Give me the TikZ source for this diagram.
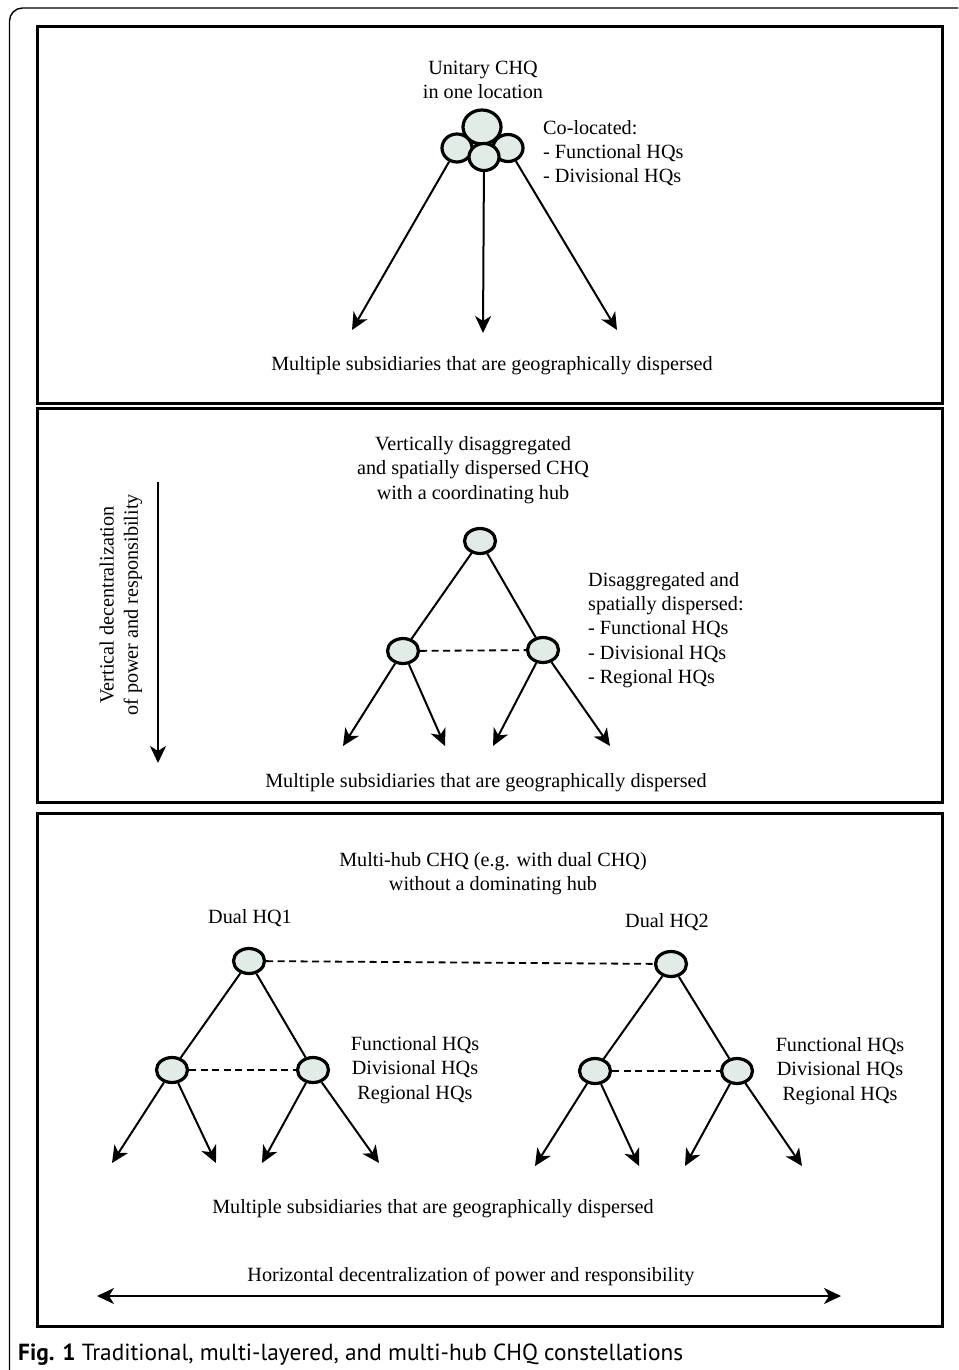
\documentclass[tikz,border=0pt]{standalone}
\usepackage{fontspec}
\setmainfont{Liberation Serif}
\newfontfamily\capfont{PT Sans}
\usepackage{tikz}
\usetikzlibrary{arrows.meta,shapes.geometric,positioning}
\usepackage{xcolor}
\definecolor{hqfill}{RGB}{226,236,231}
\tikzstyle{arrow} = [line width=2pt,-{Stealth[length=17pt,width=16pt,inset=5pt]}]
\tikzstyle{link} = [line width=2pt]
\tikzstyle{peer} = [line width=1.8pt, dash pattern=on 7pt off 4.5pt]
\tikzstyle{hq} = [ellipse, draw, line width=3.2pt, fill=hqfill, minimum width=31pt, minimum height=25pt, inner sep=0pt]
\tikzstyle{panel} = [line width=3pt]
\tikzstyle{label} = [align=center, inner sep=0pt]

\begin{document}
\begin{tikzpicture}[x=1pt, y=-1pt, font=\fontsize{20.2}{24.2}\selectfont]
\useasboundingbox (0,0) rectangle (958,1370);
% Outer frame
\draw[line width=1.4pt, rounded corners=13pt] (9.5,1370) -- (9.5,8) -- (958,8);

% Panel 1: unitary CHQ
\draw[panel] (37,27) rectangle (942,403);
\node[label] at (483,80) (unitary) {Unitary CHQ\\in one location};
\node[hq, minimum width=38pt, minimum height=34pt] at (482,127) (chq) {};
\node[hq, minimum width=30pt, minimum height=28pt] at (457,148) (fhq) {};
\node[hq, minimum width=30pt, minimum height=27pt] at (508,148) (dhq) {};
\node[hq, minimum width=30pt, minimum height=27pt] at (484,157) (mhq) {};
\node[label, anchor=west, align=left] at (543,153) (coloc) {Co-located:\\- Functional HQs\\- Divisional HQs};
\coordinate (t1a) at (352,330);
\coordinate (t1b) at (483,333);
\coordinate (t1c) at (617,330);
\draw[arrow] (fhq) -- (t1a);
\draw[arrow] (mhq) -- (t1b);
\draw[arrow] (dhq) -- (t1c);
\node[label] at (492,366) (subs1) {Multiple subsidiaries that are geographically dispersed};

% Panel 2: multi-layered CHQ
\draw[panel] (37,408) rectangle (942,802);
\node[label] at (473,470) (layered) {Vertically disaggregated\\and spatially dispersed CHQ\\with a coordinating hub};
\node[hq] at (480,541) (hub) {};
\node[hq] at (403,651) (lhq) {};
\node[hq] at (543,650) (rhq) {};
\draw[link] (hub) -- (lhq);
\draw[link] (hub) -- (rhq);
\draw[peer] (lhq) -- (rhq);
\node[label, anchor=west, align=left] at (588,630) (disagg) {Disaggregated and\\spatially dispersed:\\- Functional HQs\\- Divisional HQs\\- Regional HQs};
\coordinate (t2a) at (343,746);
\coordinate (t2b) at (445,746);
\coordinate (t2c) at (493,746);
\coordinate (t2d) at (610,746);
\draw[arrow] (lhq) -- (t2a);
\draw[arrow] (lhq) -- (t2b);
\draw[arrow] (rhq) -- (t2c);
\draw[arrow] (rhq) -- (t2d);
\node[label] at (486,783) (subs2) {Multiple subsidiaries that are geographically dispersed};
% vertical decentralization
\coordinate (vtop) at (158,482);
\coordinate (vbot) at (158,763);
\draw[arrow] (vtop) -- (vbot);
\node[label, rotate=90] at (121,605) (vert) {Vertical decentralization\\of power and responsibility};

% Panel 3: multi-hub CHQ
\draw[panel] (37,813) rectangle (942,1326);
\node[label] at (493,874) (multihub) {Multi-hub CHQ (e.g. with dual CHQ)\\without a dominating hub};
\node[label] at (250,918) (dual1) {Dual HQ1};
\node[label] at (667,922) (dual2) {Dual HQ2};
\node[hq] at (249,961) (hqa) {};
\node[hq] at (671,964) (hqb) {};
\draw[peer] (hqa) -- (hqb);
% left tree
\node[hq] at (172,1070) (hqa1) {};
\node[hq] at (313,1070) (hqa2) {};
\draw[link] (hqa) -- (hqa1);
\draw[link] (hqa) -- (hqa2);
\draw[peer] (hqa1) -- (hqa2);
\node[label] at (415,1070) (typesa) {Functional HQs\\Divisional HQs\\Regional HQs};
\coordinate (t3a) at (112,1163);
\coordinate (t3b) at (216,1163);
\coordinate (t3c) at (262,1163);
\coordinate (t3d) at (379,1163);
\draw[arrow] (hqa1) -- (t3a);
\draw[arrow] (hqa1) -- (t3b);
\draw[arrow] (hqa2) -- (t3c);
\draw[arrow] (hqa2) -- (t3d);
% right tree
\node[hq] at (595,1071) (hqb1) {};
\node[hq] at (737,1071) (hqb2) {};
\draw[link] (hqb) -- (hqb1);
\draw[link] (hqb) -- (hqb2);
\draw[peer] (hqb1) -- (hqb2);
\node[label] at (840,1071) (typesb) {Functional HQs\\Divisional HQs\\Regional HQs};
\coordinate (t3e) at (535,1166);
\coordinate (t3f) at (639,1166);
\coordinate (t3g) at (685,1166);
\coordinate (t3h) at (802,1166);
\draw[arrow] (hqb1) -- (t3e);
\draw[arrow] (hqb1) -- (t3f);
\draw[arrow] (hqb2) -- (t3g);
\draw[arrow] (hqb2) -- (t3h);
\node[label] at (433,1209) (subs3) {Multiple subsidiaries that are geographically dispersed};
% horizontal decentralization
\node[label] at (471,1277) (horiz) {Horizontal decentralization of power and responsibility};
\coordinate (hleft) at (97,1296);
\coordinate (hright) at (841,1296);
\draw[arrow, {Stealth[length=17pt,width=16pt,inset=5pt]}-{Stealth[length=17pt,width=16pt,inset=5pt]}] (hleft) -- (hright);

% Caption
\node[anchor=west, inner sep=0pt, font=\capfont\fontsize{23.3}{27}\selectfont] at (18,1355) (caption) {\textbf{Fig. 1} Traditional, multi-layered, and multi-hub CHQ constellations};
\end{tikzpicture}
\end{document}
